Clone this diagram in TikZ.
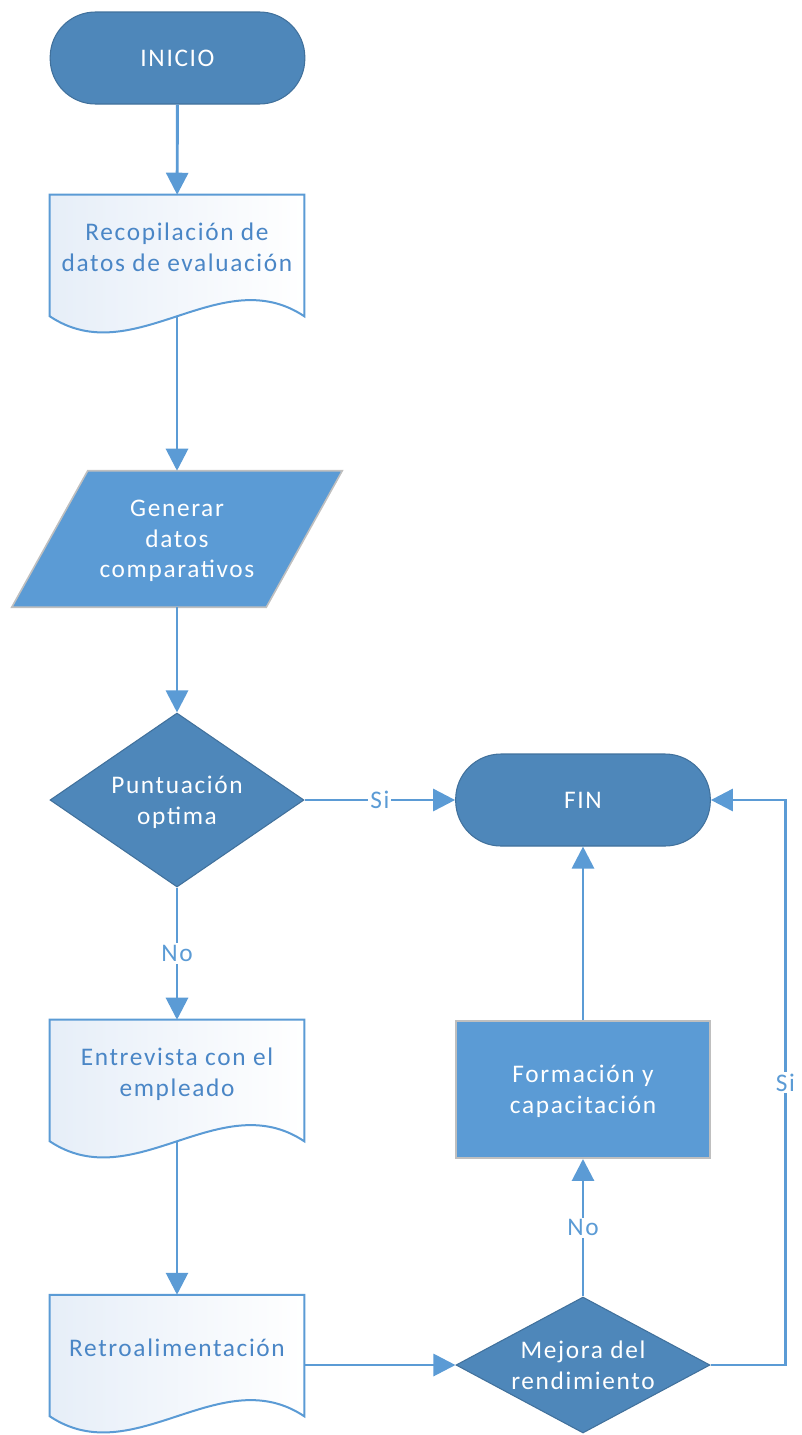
\documentclass[tikz,border=0pt]{standalone}
\usepackage{fontspec}
\setmainfont[LetterSpace=6.5]{Carlito}
\usetikzlibrary{arrows.meta,shapes.geometric,backgrounds}

\definecolor{termfill}{HTML}{4E87BA}
\definecolor{termline}{HTML}{41719C}
\definecolor{procfill}{HTML}{5B9BD5}
\definecolor{procline}{HTML}{BFBFBF}
\definecolor{flowblue}{HTML}{5B9BD5}
\definecolor{doctext}{HTML}{4A86C6}
\definecolor{docpale}{HTML}{E6EEF8}

\tikzset{
  terminal/.style={rectangle, rounded corners=34pt, minimum width=191pt, minimum height=69pt,
    fill=termfill, draw=termline, line width=0.8pt, text=white},
  decision/.style={diamond, inner sep=0pt, minimum width=190.5pt, minimum height=#1,
    fill=termfill, draw=termline, line width=0.8pt, text=white, text depth=0pt, align=center},
  process/.style={rectangle, minimum width=190.5pt, minimum height=103pt,
    fill=procfill, draw=procline, line width=1.2pt, text=white, text depth=0pt, align=center},
  docbox/.style={rectangle, minimum width=190.5pt, minimum height=90.75pt, text depth=12pt,
    text=doctext, align=center},
  iobox/.style={rectangle, minimum width=247.5pt, minimum height=102pt, text=white,
    text depth=0pt, align=center},
  flow/.style={draw=flowblue, line width=2.2pt, -{Triangle[width=16.5pt,length=16.5pt]}},
  lbl/.style={fill=white, text=flowblue, inner sep=1.5pt},
}

\begin{document}
\begin{tikzpicture}[x=0.75pt, y=-0.75pt, every node/.style={font=\fontsize{19}{23}\selectfont}]
  \useasboundingbox (0,0) rectangle (801,1435);

  % left column
  \node[terminal] (inicio) at (177.5,58) {INICIO};
  \node[docbox] (recop) at (177,255.5) {Recopilación de\\datos de evaluación};
  \node[iobox] (gen) at (177,539) {Generar\\datos\\comparativos};
  \node[decision=130.5pt, shape aspect=1.46] (punt) at (177,800) {Puntuación\\optima};
  \node[docbox] (entrev) at (177,1080.5) {Entrevista con el\\empleado};
  \node[docbox] (retro) at (177,1355.5) {Retroalimentación};

  % right column
  \node[terminal] (fin) at (583,800) {FIN};
  \node[process] (form) at (583,1089.5) {Formación y\\capacitación};
  \node[decision=102pt, shape aspect=1.87] (mej) at (583,1365) {Mejora del\\rendimiento};

  \begin{scope}[on background layer]
    \foreach \d in {recop,entrev,retro}{
      \draw[draw=flowblue, line width=1.5pt, left color=docpale, right color=white]
        (\d.south west) |- (\d.north east) -- (\d.south east)
        .. controls +(-84,-56) and +(84,56) .. (\d.south west) -- cycle;
    }
    \draw[fill=procfill, draw=procline, line width=1.2pt]
      ([xshift=57pt]gen.north west) -- (gen.north east)
      -- ([xshift=-57pt]gen.south east) -- (gen.south west) -- cycle;
  \end{scope}

  % connectors
  \draw[flow] (inicio) -- (recop);
  \draw[flow] (recop) -- (gen);
  \draw[flow] (gen) -- (punt);
  \draw[flow] (punt) -- node[lbl]{Si} (fin);
  \draw[flow] (punt) -- node[lbl]{No} (entrev);
  \draw[flow] (entrev) -- (retro);
  \draw[flow] (retro.east |- mej.west) -- (mej.west);
  \draw[flow] (mej) -- node[lbl]{No} (form);
  \draw[flow] (form) -- (fin);
  \draw[flow] (mej.east) -- ++(75,0) |- (fin.east) node[lbl, pos=0.25]{Si};
\end{tikzpicture}
\end{document}
